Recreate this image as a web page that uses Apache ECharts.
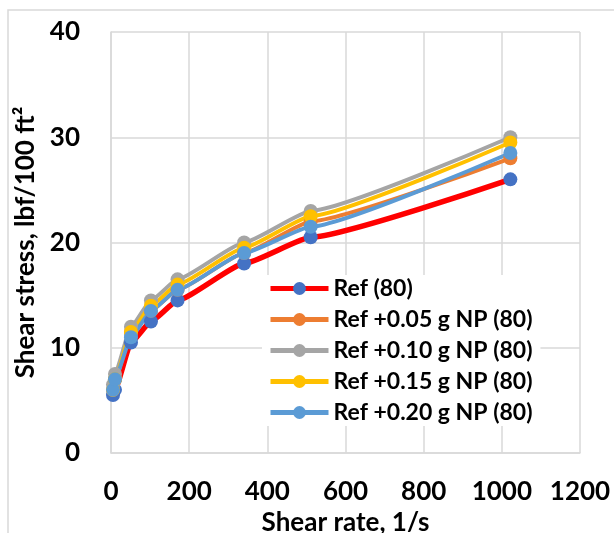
<!DOCTYPE html>
<html>
<head>
<meta charset="utf-8">
<script src="https://cdn.jsdelivr.net/npm/echarts@6/dist/echarts.min.js"></script>
<style>
  html, body { margin: 0; padding: 0; background: #fff; }
  #chart { width: 614px; height: 533px; }
</style>
</head>
<body>
<div id="chart"></div>
<script>
// shear rate (1/s) of each reading
const shearRate = [5.11, 10.22, 51.1, 102.2, 170.3, 340.6, 510.9, 1021.8]

// shear stress, lbf/100 ft2
const ref80 = [5.5, 6, 10.5, 12.5, 14.5, 18, 20.5, 26]
const np005 = [6, 7, 11.5, 13.5, 15.5, 19, 22, 28]
const np010 = [6.5, 7.5, 12, 14.5, 16.5, 20, 23, 30]
const np015 = [6, 7, 11.5, 14, 16, 19.5, 22.5, 29.5]
const np020 = [6, 7, 11, 13.5, 15.5, 19, 21.5, 28.5]

const seriesNames = ['Ref (80)', 'Ref +0.05 g NP (80)', 'Ref +0.10 g NP (80)', 'Ref +0.15 g NP (80)', 'Ref +0.20 g NP (80)']
const seriesValues = [ref80, np005, np010, np015, np020]
const lineColors = ['#ff0000', '#ed7d31', '#a5a5a5', '#ffc000', '#5b9bd5']
const markerColors = ['#4472c4', '#ed7d31', '#a5a5a5', '#ffc000', '#5b9bd5']

const font = 'Lato, "Open Sans", sans-serif'
const gridColor = '#d9d9d9'

const chart = echarts.init(document.getElementById('chart'))

function makeSeries(i) {
  return {
    name: seriesNames[i],
    type: 'line',
    data: shearRate.map((x, j) => [x, seriesValues[i][j]]),
    smooth: 0.15,
    smoothMonotone: 'x',
    symbol: 'circle',
    symbolSize: 14,
    itemStyle: { color: markerColors[i] },
    lineStyle: { color: lineColors[i], width: i === 0 ? 5.5 : 4 },
    emphasis: { disabled: true },
  }
}

chart.setOption({
  animation: false,
  backgroundColor: '#fff',
  textStyle: { fontFamily: font },
  graphic: [{
    type: 'rect',
    shape: { x: 8, y: 10, width: 640, height: 560 },
    style: { fill: 'none', stroke: gridColor, lineWidth: 1.5 },
    silent: true,
  }],
  grid: { left: 111, right: 34, top: 32, bottom: 80, outerBoundsMode: 'none', containLabel: false },
  legend: {
    data: seriesNames,
    orient: 'vertical',
    left: 262,
    top: 275,
    padding: [2, 8, 2, 6],
    backgroundColor: '#fff',
    itemWidth: 58,
    itemHeight: 16,
    itemGap: 8,
    lineStyle: { width: 5 },
    textStyle: { fontFamily: font, fontWeight: 'bold', fontSize: 23, color: '#000' },
  },
  xAxis: {
    type: 'value',
    min: 0,
    max: 1200,
    interval: 200,
    name: 'Shear rate, 1/s',
    nameLocation: 'middle',
    nameGap: 42,
    nameTextStyle: { fontFamily: font, fontWeight: 'bold', fontSize: 26, color: '#000' },
    axisLine: { show: true, lineStyle: { color: gridColor, width: 1.5 } },
    axisTick: { show: false },
    axisLabel: { fontFamily: font, fontWeight: 'bold', fontSize: 26, color: '#000', margin: 26, formatter: (v) => String(v) },
    splitLine: { show: true, lineStyle: { color: gridColor, width: 1.5 } },
  },
  yAxis: {
    type: 'value',
    min: 0,
    max: 40,
    interval: 10,
    name: 'Shear stress, lbf/100 ft²',
    nameLocation: 'middle',
    nameGap: 66,
    nameTextStyle: { fontFamily: font, fontWeight: 'bold', fontSize: 26, color: '#000' },
    axisLine: { show: true, lineStyle: { color: gridColor, width: 1.5 } },
    axisTick: { show: false },
    axisLabel: { fontFamily: font, fontWeight: 'bold', fontSize: 26, color: '#000', margin: 31 },
    splitLine: { show: true, lineStyle: { color: gridColor, width: 1.5 } },
  },
  series: seriesValues.map((_, i) => makeSeries(i)),
})
</script>
</body>
</html>
